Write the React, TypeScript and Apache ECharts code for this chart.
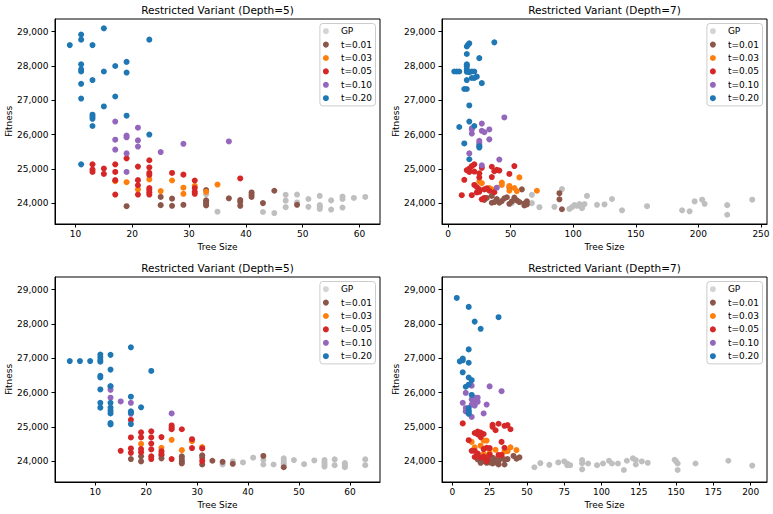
import React, { useEffect, useRef } from "react";
import * as echarts from "echarts";

const seriesNames = ["GP", "t=0.01", "t=0.03", "t=0.05", "t=0.10", "t=0.20"];
const panelTitles = [
  "Restricted Variant (Depth=5)",
  "Restricted Variant (Depth=7)",
  "Restricted Variant (Depth=5)",
  "Restricted Variant (Depth=7)",
];
const yTicks = [24000, 25000, 26000, 27000, 28000, 29000];
const xTicksP1 = [10, 20, 30, 40, 50, 60];
const xTicksP2 = [0, 50, 100, 150, 200, 250];
const xTicksP3 = [10, 20, 30, 40, 50, 60];
const xTicksP4 = [0, 25, 50, 75, 100, 125, 150, 175, 200];

const p1GP = [[33,24260],[35,23750],[39,24090],[43,23740],[45,23710],[47,24240],[47,24070],[47,23880],[49,24250],[49,24020],[51,24120],[51,23890],[53,24210],[53,23940],[53,23880],[53,23830],[55,24080],[55,23810],[57,24190],[57,24120],[57,23870],[59,24150],[61,24180]];
const p1T001 = [[19,23910],[25,24180],[25,23940],[27,24130],[27,23920],[29,23950],[33,24380],[33,24080],[33,24030],[33,23980],[33,23930],[37,24140],[39,24090],[39,24030],[39,23920],[41,24310],[41,24240],[41,24180],[43,24000],[45,24360],[49,23950]];
const p1T003 = [[17,24640],[19,24610],[21,24400],[23,24690],[25,24350],[27,24660],[29,24450],[29,24270],[31,24500],[33,24330],[35,24540]];
const p1T005 = [[13,25130],[13,24980],[13,24910],[15,25010],[15,24850],[17,25130],[17,24910],[17,24670],[17,24250],[19,25305],[21,25065],[21,24670],[21,24520],[21,24250],[23,25250],[23,25040],[23,24880],[23,24820],[23,24440],[23,24390],[23,24320],[23,24250],[27,24880],[29,24830],[31,24660],[31,24440],[31,24330],[31,24270],[39,24720]];
const p1T010 = [[17,26380],[17,25850],[17,25560],[19,25970],[19,25920],[19,25450],[19,24910],[21,26200],[21,25830],[21,25650],[25,25490],[29,25730],[37,25800]];
const p1T020 = [[9,28610],[11,28920],[11,28770],[11,28050],[11,27900],[11,27840],[11,27480],[11,27050],[11,25130],[13,28610],[13,27590],[13,26580],[13,26520],[13,26460],[13,26250],[15,29100],[15,27840],[15,26820],[17,28000],[17,27110],[19,28120],[19,27810],[19,26550],[23,28770],[23,26000]];

const p2GP = [[51,24000],[67,24240],[67,24000],[73,23880],[85,23890],[91,24410],[97,23830],[99,23880],[101,23940],[103,23920],[105,23970],[107,23880],[107,23920],[107,23850],[109,23970],[111,24210],[119,23950],[125,23960],[131,24120],[139,23790],[159,23910],[187,23790],[193,23760],[197,24050],[203,24100],[205,23980],[223,23940],[223,23660],[243,24100]];
const p2T001 = [[29,24090],[31,24150],[35,24210],[35,24010],[37,24030],[39,24120],[41,24010],[43,24060],[45,24140],[47,24170],[49,24460],[49,23980],[51,24050],[53,24160],[55,24080],[57,24030],[59,24400],[61,23990],[61,23930],[63,24050],[63,23960],[89,24290],[89,24110],[91,23820]];
const p2T003 = [[25,24630],[27,24580],[33,24440],[35,24400],[43,24600],[43,24530],[49,24500],[49,24360],[53,24440],[55,24350],[57,24750],[71,24360]];
const p2T005 = [[11,24230],[13,24680],[15,24960],[17,25010],[17,24910],[19,25080],[19,24230],[21,25130],[21,24920],[21,24530],[23,24470],[23,24310],[25,24870],[25,24750],[25,24400],[25,24330],[27,25030],[27,24110],[29,24400],[29,24150],[31,24430],[33,24360],[35,25060],[35,24760],[37,24930],[37,24320],[39,24970],[41,24950],[49,24850],[53,25080]];
const p2T010 = [[17,25450],[19,26180],[19,26150],[19,26030],[25,25820],[25,25760],[25,25700],[27,26320],[27,26110],[27,25100],[29,26070],[33,26150],[33,25860],[39,24450],[41,25270],[45,26500]];
const p2T020 = [[5,27840],[7,27840],[9,27840],[9,26220],[13,27330],[13,25740],[15,28570],[15,28350],[15,28050],[15,27990],[15,27900],[15,27830],[15,27590],[15,27330],[16,28620],[17,28660],[17,27820],[17,26850],[17,26380],[17,25280],[19,27840],[19,27650],[21,27840],[21,27650],[21,26250],[23,27690],[25,28230],[25,25660],[25,25620],[27,27500],[37,28690]];

const p3GP = [[35,23900],[37,23990],[39,23960],[41,24100],[43,24040],[43,23900],[45,23900],[47,24080],[47,24010],[47,23940],[47,23880],[49,24030],[51,23910],[53,24020],[55,24030],[55,23960],[55,23890],[55,23840],[57,24050],[57,23880],[59,23940],[59,23880],[59,23820],[63,24050],[63,23880]];
const p3T001 = [[17,24060],[19,24140],[19,23990],[23,24170],[23,24080],[27,24140],[27,24060],[27,23990],[27,23930],[31,24170],[31,24100],[31,23900],[33,24010],[35,23980],[37,23920],[43,24150],[47,23820]];
const p3T003 = [[19,24500],[23,24390],[25,24620],[27,24320],[29,24580],[31,24410]];
const p3T005 = [[15,24300],[17,25200],[17,24690],[17,24370],[17,24240],[19,24840],[19,24690],[19,24350],[19,24260],[21,24870],[21,24690],[21,24510],[21,24340],[21,24140],[21,24060],[23,24700],[23,24290],[23,24210],[25,25040],[25,24980],[25,24930],[25,24060],[27,24930],[29,24640],[29,24380],[31,24370],[31,24000]];
const p3T010 = [[13,26170],[13,26080],[13,25850],[15,25740],[17,25700],[17,25380],[25,25390]];
const p3T020 = [[5,26920],[7,26920],[9,26920],[11,27110],[11,27030],[11,26950],[11,26900],[11,26490],[11,26440],[11,26090],[11,25700],[11,25560],[13,27100],[13,26670],[13,26190],[13,25700],[13,25560],[13,25470],[13,25390],[13,25110],[13,25070],[17,27320],[17,25880],[17,25450],[17,25410],[17,25080],[19,25570],[21,26630]];

const p4GP = [[55,23820],[59,23940],[65,23890],[71,23960],[75,23990],[77,23930],[77,23880],[79,23880],[87,24030],[87,23940],[87,23760],[91,23930],[97,23880],[101,23930],[105,24010],[107,23930],[111,23930],[115,23740],[117,24010],[121,24080],[123,24030],[123,23900],[127,23990],[131,23950],[149,24040],[150,23990],[151,23930],[151,23740],[163,23930],[185,24010],[201,23870]];
const p4T001 = [[17,24200],[17,24050],[19,23950],[19,24030],[21,24000],[23,23950],[23,24130],[25,24100],[25,23960],[27,24000],[27,23930],[27,24100],[29,24050],[29,23960],[31,23900],[31,24000],[33,24080],[35,24050],[35,23900],[37,24060],[41,24150],[43,24070],[45,24110]];
const p4T003 = [[13,24560],[15,24400],[19,24450],[21,24600],[21,24210],[23,24600],[25,24350],[25,24230],[29,24330],[35,24280],[37,24290],[39,24400],[43,24320]];
const p4T005 = [[7,25100],[11,24610],[13,24300],[15,24820],[15,24300],[15,24120],[17,24860],[17,24780],[17,24220],[19,24830],[19,24760],[19,24700],[19,24100],[21,24790],[21,24350],[21,24130],[23,24390],[23,24050],[23,24000],[25,24380],[25,24190],[27,25060],[27,25000],[29,24900],[31,25090],[31,24180],[33,24560],[33,24180],[35,25030],[35,24390],[37,25050],[39,24930]];
const p4T010 = [[7,25700],[9,25990],[9,25550],[9,25450],[13,26200],[13,25800],[13,25650],[13,25290],[15,25850],[15,25700],[15,25620],[17,25850],[17,25730],[21,25390],[23,25650],[25,26180],[33,26040]];
const p4T020 = [[3,28760],[5,26910],[7,26990],[7,26940],[7,26590],[9,26170],[11,28500],[11,27260],[11,26870],[11,26440],[11,26230],[11,25550],[11,25480],[11,25420],[11,25380],[13,26360],[13,25930],[15,28070],[19,27860],[31,28200]];

const panels = [
  { data: [p1GP, p1T001, p1T003, p1T005, p1T010, p1T020], xMin: 6.4, xMax: 63.6, xTicks: xTicksP1 },
  { data: [p2GP, p2T001, p2T003, p2T005, p2T010, p2T020], xMin: -4.8, xMax: 254.8, xTicks: xTicksP2 },
  { data: [p3GP, p3T001, p3T003, p3T005, p3T010, p3T020], xMin: 2.1, xMax: 65.9, xTicks: xTicksP3 },
  { data: [p4GP, p4T001, p4T003, p4T005, p4T010, p4T020], xMin: -6.9, xMax: 210.9, xTicks: xTicksP4 },
];
const yMin = 23390;
const yMax = 29372;

const colors = ["#bfbfbf", "#8c564b", "#ff7f0e", "#d62728", "#9467bd", "#1f77b4"];
const legendColors = ["#d4d4d4", "#8c564b", "#ff7f0e", "#d62728", "#9467bd", "#1f77b4"];
const FONT = "DejaVu Sans";
const gridBoxes = [
  { left: 55, top: 19, width: 325, height: 205 },
  { left: 442, top: 19, width: 325, height: 205 },
  { left: 55, top: 277, width: 325, height: 205 },
  { left: 442, top: 277, width: 325, height: 205 },
];
const W = 773;

function buildOption() {
  const grid = gridBoxes.map((g) => ({
    ...g,
    show: true,
    borderColor: "#000",
    borderWidth: 1,
    backgroundColor: "transparent",
    containLabel: false,
  }));
  const xAxis = panels.map((p, i) => ({
    type: "value",
    gridIndex: i,
    min: p.xMin,
    max: p.xMax,
    name: "Tree Size",
    nameLocation: "middle",
    nameGap: 18,
    nameTextStyle: { fontFamily: FONT, fontSize: 9, color: "#000" },
    axisLine: { show: true, onZero: false, lineStyle: { color: "#000", width: 1 } },
    axisTick: { show: true, length: 3.5, customValues: p.xTicks, lineStyle: { color: "#000", width: 1 } },
    axisLabel: { customValues: p.xTicks, fontFamily: FONT, fontSize: 9, color: "#000", margin: 5.5 },
    splitLine: { show: false },
  }));
  const yAxis = panels.map((_, i) => ({
    type: "value",
    gridIndex: i,
    min: yMin,
    max: yMax,
    name: "Fitness",
    nameLocation: "middle",
    nameRotate: 90,
    nameGap: 41,
    nameTextStyle: { fontFamily: FONT, fontSize: 9, color: "#000" },
    axisLine: { show: true, onZero: false, lineStyle: { color: "#000", width: 1 } },
    axisTick: { show: true, length: 3.5, customValues: yTicks, lineStyle: { color: "#000", width: 1 } },
    axisLabel: {
      customValues: yTicks,
      fontFamily: FONT,
      fontSize: 9,
      color: "#000",
      margin: 6.5,
      formatter: (v: number) => Math.round(v).toLocaleString("en-US"),
    },
    splitLine: { show: false },
  }));
  const title = gridBoxes.map((g, i) => ({
    text: panelTitles[i],
    left: g.left + g.width / 2,
    top: g.top - 15,
    textAlign: "center",
    padding: 0,
    textStyle: { fontFamily: FONT, fontSize: 10.5, fontWeight: "normal", color: "#000" },
  }));
  const legend = gridBoxes.map((g) => ({
    orient: "vertical",
    right: W - (g.left + g.width - 4.5),
    top: g.top + 4.5,
    padding: [1, 3.5, 1, 3],
    itemWidth: 20,
    itemHeight: 6,
    itemGap: 0,
    icon: "circle",
    backgroundColor: "rgba(255,255,255,0.8)",
    borderColor: "#cccccc",
    borderWidth: 1,
    borderRadius: 3,
    selectedMode: false,
    textStyle: { fontFamily: FONT, fontSize: 9, color: "#000", lineHeight: 13.4 },
    data: seriesNames.map((n, j) => ({ name: n, itemStyle: { color: legendColors[j] } })),
  }));
  const series: any[] = [];
  panels.forEach((p, i) => {
    p.data.forEach((d, j) => {
      series.push({
        type: "scatter",
        name: seriesNames[j],
        xAxisIndex: i,
        yAxisIndex: i,
        data: d,
        symbolSize: 6,
        itemStyle: { color: colors[j], opacity: 1 },
        emphasis: { disabled: true },
        z: 2 + j,
      });
    });
  });
  return { animation: false, backgroundColor: "#fff", title, legend, grid, xAxis, yAxis, series, tooltip: { show: false } };
}

export default function App() {
  const ref = useRef<HTMLDivElement>(null);
  useEffect(() => {
    const chart = echarts.init(ref.current as HTMLDivElement, null, { renderer: "svg" });
    chart.setOption(buildOption() as any);
    return () => chart.dispose();
  }, []);
  return (
    <div
      ref={ref}
      style={{ position: "absolute", left: 0, top: 0, width: 773, height: 514, background: "#fff" }}
    />
  );
}
